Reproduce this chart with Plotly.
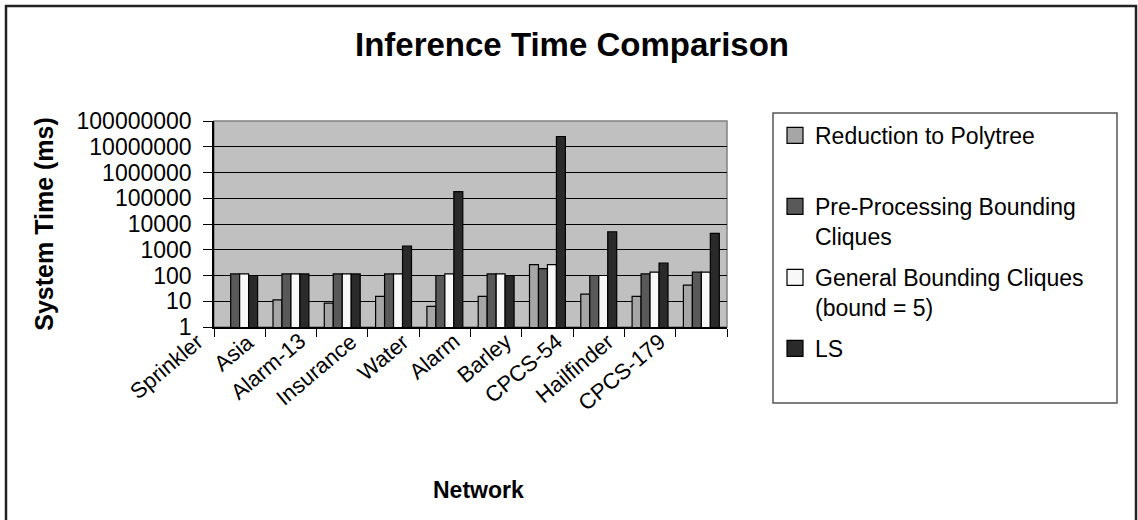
import plotly.graph_objects as go

networks = ["Sprinkler", "Asia", "Alarm-13", "Insurance", "Water", "Alarm",
            "Barley", "CPCS-54", "Hailfinder", "CPCS-179"]
reduction = [None, 11.4, 8.5, 15.4, 6.3, 15.4, 265, 19, 15.4, 42]
preproc = [115, 115, 115, 115, 100, 115, 185, 100, 115, 135]
general = [115, 115, 115, 115, 115, 115, 265, 100, 135, 135]
ls_vals = [100, 115, 115, 1400, 180000, 100, 25000000, 5000, 300, 4300]

series_names = ["Reduction to Polytree", "Pre-Processing Bounding<br>Cliques",
                "General Bounding Cliques<br>(bound = 5)", "LS"]
series_values = [reduction, preproc, general, ls_vals]
series_colors = ["#a6a6a6", "#595959", "#f8f8f8", "#2a2a2a"]
legend_ids = ["legend", "legend2", "legend3", "legend4"]

FONT = "Liberation Sans, Arial, sans-serif"

fig = go.Figure()
for name, vals, col in zip(series_names, series_values, series_colors):
    fig.add_trace(go.Bar(
        x=networks, y=vals, name=name, showlegend=False,
        marker=dict(color=col, line=dict(color="black", width=1.2)),
    ))
# legend keys (larger square swatches like the original)
for name, col, lid in zip(series_names, series_colors, legend_ids):
    fig.add_trace(go.Scatter(
        x=[None], y=[None], mode="markers", name=name, legend=lid,
        marker=dict(symbol="square", size=16, color=col,
                    line=dict(color="black", width=1.2)),
    ))

# plot area px: x 214..727, y 121..327
L, R, T, B = 214, 727, 121, 327
W, H = 1138, 520


def px_x(p):
    return (p - L) / (R - L)


def px_y(p):
    return (B - p) / (B - T)


shapes = [
    dict(type="rect", xref="paper", yref="paper", x0=0, x1=1, y0=0, y1=1,
         line=dict(color="#808080", width=1.5), layer="below"),
    dict(type="rect", xref="paper", yref="paper", x0=px_x(6), x1=px_x(1136),
         y0=px_y(530), y1=px_y(6), line=dict(color="#222222", width=2.5)),
    dict(type="rect", xref="paper", yref="paper", x0=px_x(773), x1=px_x(1117),
         y0=px_y(403), y1=px_y(113), line=dict(color="#555555", width=1.5)),
]

legend_tops = [114, 185, 256, 327]
legends = {}
for lid, top in zip(legend_ids, legend_tops):
    legends[lid] = dict(x=px_x(775), y=px_y(top), xanchor="left", yanchor="top",
                        bgcolor="rgba(0,0,0,0)", borderwidth=0, valign="top",
                        itemsizing="trace",
                        font=dict(size=23, family=FONT))

annotations = []
for cat in networks:
    annotations.append(dict(
        x=cat, xref="x", y=0, yref="paper", text=cat, showarrow=False,
        textangle=-40, xanchor="right", yanchor="top", xshift=-29, yshift=1,
        font=dict(size=22, family=FONT, color="black"),
    ))
annotations.append(dict(
    x=px_x(478), xref="paper", y=px_y(490), yref="paper", text="<b>Network</b>",
    showarrow=False, xanchor="center", yanchor="middle",
    font=dict(size=23, family=FONT, color="black"),
))

fig.update_layout(
    width=W, height=H,
    margin=dict(l=L, r=W - R, t=T, b=H - B, pad=0),
    paper_bgcolor="white",
    plot_bgcolor="#c0c0c0",
    font=dict(family=FONT, color="black", size=21),
    title=dict(text="<b>Inference Time Comparison</b>", x=572 / W, xanchor="center",
               y=1 - 44 / H, yanchor="middle", yref="container",
               font=dict(size=33, family=FONT)),
    barmode="group", bargap=0.3, bargroupgap=0,
    showlegend=True,
    shapes=shapes,
    annotations=annotations,
    **legends,
)

fig.update_xaxes(
    type="category", range=[-0.5, len(networks) - 0.5], autorange=False,
    showline=True, linecolor="black", linewidth=1.5,
    ticks="outside", tickson="boundaries", ticklen=8, tickcolor="black",
    showticklabels=False, showgrid=False,
)
fig.update_yaxes(
    type="log", range=[0, 8], dtick=1, tickformat="d",
    showline=True, linecolor="black", linewidth=1.5,
    ticks="outside", ticklen=9, tickcolor="black", ticklabelstandoff=7,
    tickfont=dict(size=23, family=FONT),
    showgrid=True, gridcolor="black", gridwidth=1,
    zeroline=False,
    title=dict(text="<b>System Time (ms)</b>", font=dict(size=25, family=FONT), standoff=16),
)

fig.write_html("out.html", config={"displayModeBar": False},
               post_script="document.body.style.margin='0';")
